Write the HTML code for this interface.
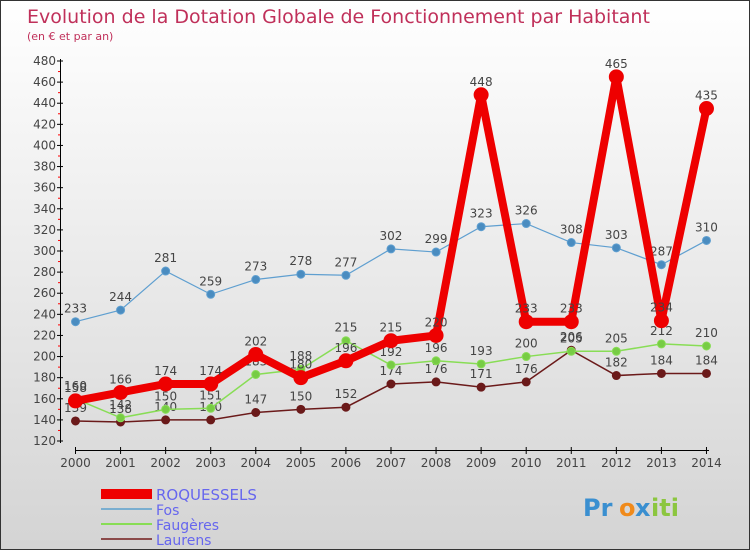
<!DOCTYPE html>
<html><head><meta charset="utf-8"><style>
body{margin:0}
#c{width:748px;height:548px;border:1px solid #333;background:linear-gradient(#fff,#d4d4d4);position:relative;overflow:hidden;font-family:"DejaVu Sans","Liberation Sans",sans-serif}
</style></head><body>
<div id="c">
<svg id="s" width="748" height="548"></svg>
</div>
<script>
const years=[2000,2001,2002,2003,2004,2005,2006,2007,2008,2009,2010,2011,2012,2013,2014];
const roq=[158,166,174,174,202,180,196,215,220,448,233,233,465,234,435];
const fos=[233,244,281,259,273,278,277,302,299,323,326,308,303,287,310];
const fau=[160,142,150,151,183,188,215,192,196,193,200,205,205,212,210];
const lau=[139,138,140,140,147,150,152,174,176,171,176,206,182,184,184];
const yTicks=[120,140,160,180,200,220,240,260,280,300,320,340,360,380,400,420,440,460,480];
const NS='http://www.w3.org/2000/svg';
const s=document.getElementById('s');
const X=i=>74.5+i*45.07;
const Y=v=>440-(v-120)*(380/360);
function el(t,a,txt){const e=document.createElementNS(NS,t);for(const k in a)e.setAttribute(k,a[k]);if(txt!==undefined)e.textContent=txt;s.appendChild(e);return e;}
let e;
e=el('text',{x:26,y:22,fill:'#c0305a','font-size':19},'Evolution de la Dotation Globale de Fonctionnement par Habitant');


e=el('text',{x:26,y:39,fill:'#c0305a','font-size':11},'(en € et par an)');


e=el('line',{x1:59.5,y1:58,x2:59.5,y2:442,stroke:'#000'});


e=el('line',{x1:74,y1:449.5,x2:708,y2:449.5,stroke:'#000'});


yTicks.forEach((v,i)=>{
 el('line',{x1:56,x2:62,y1:Y(v),y2:Y(v),stroke:'#000'});
 if(i<yTicks.length-1) el('line',{x1:57,x2:59,y1:Y(v+10),y2:Y(v+10),stroke:'#f00'});
 e=el('text',{x:55,y:Y(v)+4,'text-anchor':'end','font-size':12,fill:'#444'},v);
 
 
});
years.forEach((yr,i)=>{
 el('line',{x1:X(i),x2:X(i),y1:446,y2:453,stroke:'#000'});
 e=el('text',{x:X(i),y:466,'text-anchor':'middle','font-size':12,fill:'#444'},yr);
 
 
});
function series(data,color,w,r,name,dot){
 e=el('polyline',{points:data.map((v,i)=>X(i)+','+Y(v)).join(' '),fill:'none',stroke:color,'stroke-width':w});
 
 
 data.forEach((v,i)=>{
  e=el('circle',{cx:X(i),cy:Y(v),r:r,fill:dot,stroke:color,'stroke-width':1});
  
  
  e=el('text',{x:X(i),y:Y(v)-9,'text-anchor':'middle','font-size':12,fill:'#444'},v);
  
  
 });
}
series(lau,'#6b1a1a',1.5,4,'laurens','#6b1a1a');
series(fau,'#88dd55',1.5,4,'faugeres','#77cc44');
series(fos,'#5f9fd0',1.2,4,'fos','#4a8cc0');
series(roq,'#ee0000',8,7,'roquessels','#ee0000');
const leg=[['ROQUESSELS','#ee0000',10],['Fos','#7aaed0',2],['Faugères','#88dd55',2],['Laurens','#8b4a4a',2]];
leg.forEach((l,i)=>{
 const y=493+i*15;
 e=el('line',{x1:100,x2:151,y1:y,y2:y,stroke:l[1],'stroke-width':l[2]});
 
 
 e=el('text',{x:155,y:y+6,'font-size':i==0?15:14,fill:'#6666ee'},l[0]);
 
 
});
e=el('text',{x:582,y:515,'font-size':24,'font-weight':'bold',fill:'#3a8fd0'},'Pr');


e=el('text',{x:618,y:515,'font-size':24,'font-weight':'bold',fill:'#f08a1a'},'o');


e=el('text',{x:634,y:515,'font-size':24,'font-weight':'bold',fill:'#3a8fd0'},'x');


e=el('text',{x:650,y:515,'font-size':24,'font-weight':'bold',fill:'#8cc63f'},'iti');


</script>
</body></html>
